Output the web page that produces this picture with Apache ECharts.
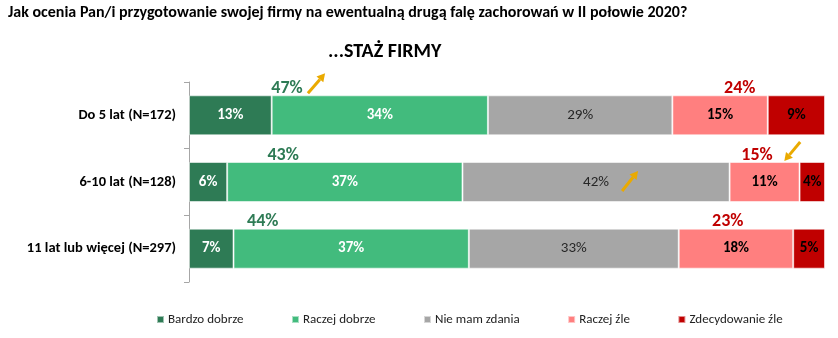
<!DOCTYPE html>
<html>
<head>
<meta charset="utf-8">
<script src="https://cdn.jsdelivr.net/npm/echarts@6/dist/echarts.min.js"></script>
<style>
  html, body { margin: 0; padding: 0; background: #fff; }
  #chart { width: 838px; height: 338px; }
</style>
</head>
<body>
<div id="chart"></div>
<script>
// Company age groups and answer shares (%)
const categories = ['Do 5 lat (N=172)', '6-10 lat (N=128)', '11 lat lub więcej (N=297)'];
const seriesNames = ['Bardzo dobrze', 'Raczej dobrze', 'Nie mam zdania', 'Raczej źle', 'Zdecydowanie źle'];
const bardzoDobrze = [13, 6, 7];
const raczejDobrze = [34, 37, 37];
const nieMamZdania = [29, 42, 33];
const raczejZle = [15, 11, 18];
const zdecydowanieZle = [9, 4, 5];

// Where the combined "good" / "bad" totals sit along the value axis
const goodTotalAnchor = [15.4, 14.8, 11.6];
const badTotalAnchor = [86.6, 89.3, 84.7];

// Trend arrows: [tailX, row, tailDy, headX, headDy] (dy in px from row centre)
const arrows = [
  [18.7, 0, -22, 21.4, -42],
  [68.1, 1, 9, 70.6, -11],
  [96.1, 1, -40, 93.6, -21]
];

const FONT = 'Carlito, Lato, sans-serif';
const colors = ['#2E7B55', '#42BB7D', '#A6A6A6', '#FF7F7F', '#C00000'];
const values = [bardzoDobrze, raczejDobrze, nieMamZdania, raczejZle, zdecydowanieZle];
const labelStyles = [
  { color: '#fff', fontWeight: 'bold' },
  { color: '#fff', fontWeight: 'bold' },
  { color: '#262626', fontWeight: 'normal' },
  { color: '#000', fontWeight: 'bold' },
  { color: '#000', fontWeight: 'bold' }
];

const goodTotals = categories.map((_, i) => bardzoDobrze[i] + raczejDobrze[i]);
const badTotals = categories.map((_, i) => raczejZle[i] + zdecydowanieZle[i]);

const barSeries = seriesNames.map((name, k) => ({
  name: name,
  type: 'bar',
  stack: 'total',
  barWidth: 40,
  data: values[k],
  itemStyle: { color: colors[k], borderColor: 'rgba(255,255,255,0.55)', borderWidth: 1 },
  label: {
    show: true,
    position: 'inside',
    formatter: '{c}%',
    fontFamily: FONT,
    fontSize: 15,
    color: labelStyles[k].color,
    fontWeight: labelStyles[k].fontWeight
  },
  emphasis: { disabled: true }
}));

function totalSeries(anchor, totals, color) {
  return {
    type: 'scatter',
    symbolSize: 0,
    silent: true,
    itemStyle: { opacity: 1 },
    data: categories.map((_, i) => [anchor[i], i, totals[i]]),
    label: {
      show: true,
      position: 'inside',
      offset: [0, -27],
      formatter: p => p.value[2] + '%',
      fontFamily: FONT,
      fontSize: 18,
      fontWeight: 'bold',
      color: color,
      opacity: 1
    }
  };
}

const chart = echarts.init(document.getElementById('chart'), null, { renderer: 'canvas' });
chart.setOption({
  animation: false,
  title: [
    {
      text: 'Jak ocenia Pan/i przygotowanie swojej firmy na ewentualną drugą falę zachorowań w II połowie 2020?',
      left: 3, top: 0,
      textStyle: { fontFamily: FONT, fontSize: 16, fontWeight: 'bold', color: '#000' }
    },
    {
      text: '...STAŻ FIRMY',
      left: 323, top: 37,
      textStyle: { fontFamily: FONT, fontSize: 20, fontWeight: 'bold', color: '#000' }
    }
  ],
  grid: { left: 189, right: 13, top: 82, bottom: 56, containLabel: false },
  legend: {
    data: seriesNames,
    left: 151, top: 308,
    itemWidth: 7, itemHeight: 7, itemGap: 47.5,
    icon: 'rect',
    textStyle: { fontFamily: FONT, fontSize: 13, color: '#222', padding: [0, 0, 0, -1] },
    selectedMode: false
  },
  xAxis: {
    type: 'value', min: 0, max: 100, show: false
  },
  yAxis: {
    type: 'category',
    data: categories,
    inverse: true,
    axisLine: { show: true, lineStyle: { color: '#A6A6A6', width: 1 } },
    axisTick: { show: true, length: 5, lineStyle: { color: '#A6A6A6' } },
    axisLabel: { fontFamily: FONT, fontSize: 14.5, fontWeight: 'bold', color: '#000', margin: 13 }
  },
  series: barSeries.concat([
    totalSeries(goodTotalAnchor, goodTotals, '#2E7B55'),
    totalSeries(badTotalAnchor, badTotals, '#C00000')
  ])
});

// Trend arrows placed through the grid's own coordinate conversion
const ARROW_COLOR = '#EAAA00';
const arrowGraphics = [];
arrows.forEach(function (a) {
  const t = chart.convertToPixel({ gridIndex: 0 }, [a[0], a[1]]);
  const h = chart.convertToPixel({ gridIndex: 0 }, [a[3], a[1]]);
  const x1 = t[0], y1 = t[1] + a[2];
  const x2 = h[0], y2 = h[1] + a[4];
  const ang = Math.atan2(y2 - y1, x2 - x1);
  const L = 8, W = 4.5;
  const bx = x2 - L * Math.cos(ang), by = y2 - L * Math.sin(ang);
  const px = -Math.sin(ang), py = Math.cos(ang);
  arrowGraphics.push({
    type: 'line', z: 100, silent: true,
    shape: { x1: x1, y1: y1, x2: bx, y2: by },
    style: { stroke: ARROW_COLOR, lineWidth: 3 }
  });
  arrowGraphics.push({
    type: 'polygon', z: 100, silent: true,
    shape: { points: [[x2, y2], [bx + px * W, by + py * W], [bx - px * W, by - py * W]] },
    style: { fill: ARROW_COLOR }
  });
});
chart.setOption({ graphic: arrowGraphics });
</script>
</body>
</html>
